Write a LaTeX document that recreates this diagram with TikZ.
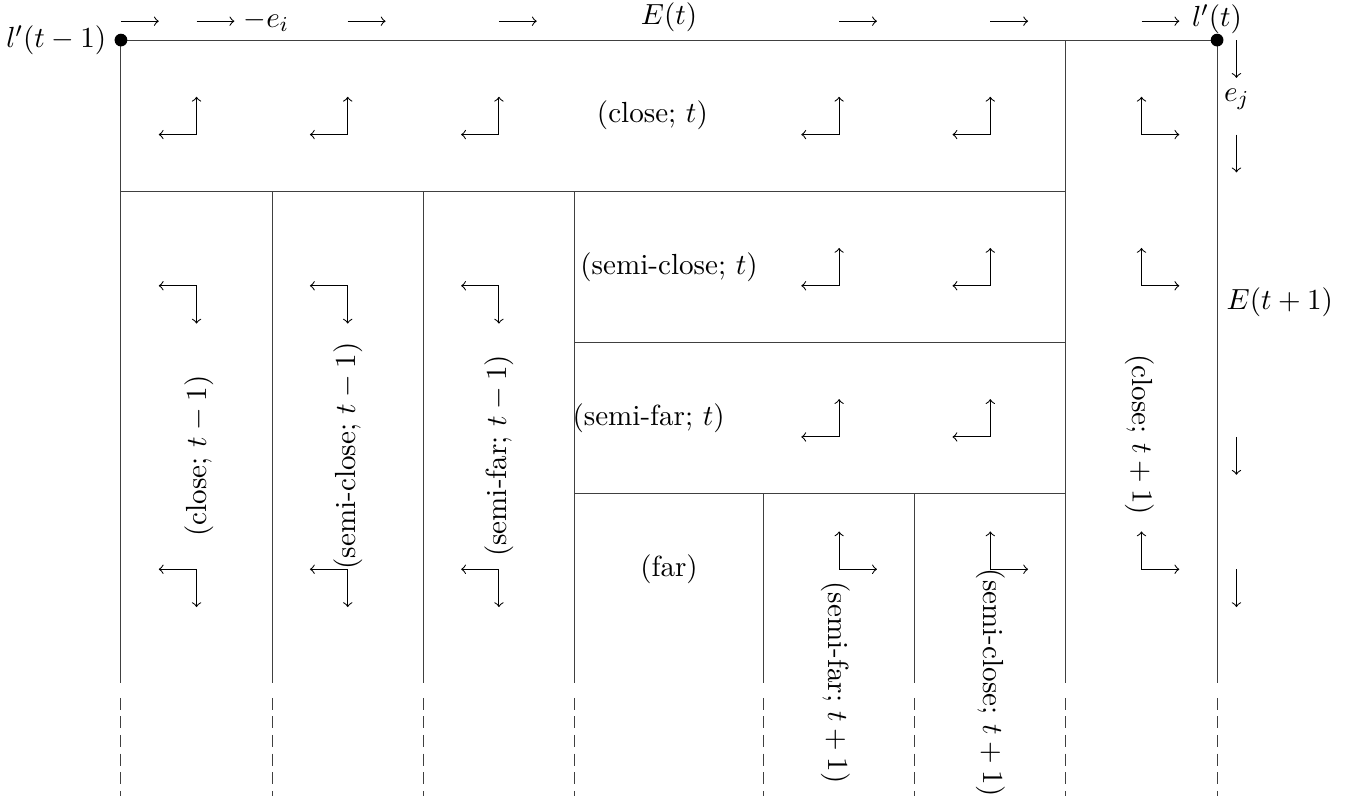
\documentclass[tikz,border=0pt]{standalone}
\begin{document}
\begin{tikzpicture}[line width=0.4pt,
  every node/.style={font=\fontsize{10.95}{13}\selectfont},
  dot/.style={circle,fill,inner sep=0pt,minimum size=4.8pt},
  grid/.style={draw=black!75},
  tail/.style={draw=black!75,dash pattern=on 4.5pt off 2.5pt}]
\useasboundingbox (-1.6,-10.05) rectangle (16.43,0.53);
% grid lines
\draw[grid] (0,0) -- (14.5,0);
\draw[grid] (0,0) -- (0,-8.5);
\foreach \x in {2,4,6} \draw[grid] (\x,-2) -- (\x,-8.5);
\foreach \x in {8.5,10.5} \draw[grid] (\x,-6) -- (\x,-8.5);
\foreach \x in {12.5,14.5} \draw[grid] (\x,0) -- (\x,-8.5);
\foreach \x in {0,2,4,6,8.5,10.5,12.5,14.5} \draw[tail] (\x,-8.7) -- (\x,-10);
\draw[grid] (0,-2) -- (12.5,-2);
\draw[grid] (6,-4) -- (12.5,-4);
\draw[grid] (6,-6) -- (12.5,-6);
% corner dots and labels
\node[dot] (lstart) at (0,0) {};
\node[dot] (lend) at (14.5,0) {};
\node[anchor=east] (lstartlab) at (-0.07,0) {$l'(t-1)$};
\node[anchor=south,inner sep=2pt] (lendlab) at (14.5,0.0) {$l'(t)$};
% top arrows
\foreach \x in {0,1,3,5,9.5,11.5,13.5} \draw[->] (\x,0.25) -- ++(0.5,0);
\node[anchor=west] (ei) at (1.5,0.25) {$-e_i$};
\node (Et) at (7.25,0.3) {$E(t)$};
% right arrows
\draw[->] (14.756,0) -- (14.756,-0.5);
\node (ej) at (14.76,-0.78) {$e_j$};
\draw[->] (14.756,-1.25) -- (14.756,-1.75);
\node (Et1) at (15.33,-3.47) {$E(t+1)$};
\draw[->] (14.756,-5.25) -- (14.756,-5.75);
\draw[->] (14.756,-7) -- (14.756,-7.5);
% corner arrows: left & up
\foreach \x/\y in {1/-1.25,3/-1.25,5/-1.25,9.5/-1.25,11.5/-1.25,9.5/-3.25,11.5/-3.25,9.5/-5.25,11.5/-5.25}
  \draw[<->] (\x-0.5,\y) -- (\x,\y) -- (\x,\y+0.5);
% left & down
\foreach \x/\y in {1/-3.25,3/-3.25,5/-3.25,1/-7,3/-7,5/-7}
  \draw[<->] (\x-0.5,\y) -- (\x,\y) -- (\x,\y-0.5);
% up & right
\foreach \x/\y in {13.5/-1.25,13.5/-3.25,13.5/-7,9.5/-7,11.5/-7}
  \draw[<->] (\x,\y+0.5) -- (\x,\y) -- (\x+0.5,\y);
% region labels
\node (ct) at (7.03,-1) {(close; $t$)};
\node (sct) at (7.25,-3) {(semi-close; $t$)};
\node (sft) at (6.98,-5) {(semi-far; $t$)};
\node (far) at (7.25,-7) {(far)};
\node[rotate=90] (ctm) at (1.03,-5.5) {(close; $t-1$)};
\node[rotate=90] (sctm) at (3,-5.5) {(semi-close; $t-1$)};
\node[rotate=90] (sftm) at (5,-5.5) {(semi-far; $t-1$)};
\node[rotate=-90] (ctp) at (13.48,-5.22) {(close; $t+1$)};
\node[rotate=-90] (sftp) at (9.45,-8.5) {(semi-far; $t+1$)};
\node[rotate=-90] (sctp) at (11.5,-8.5) {(semi-close; $t+1$)};
\end{tikzpicture}
\end{document}
